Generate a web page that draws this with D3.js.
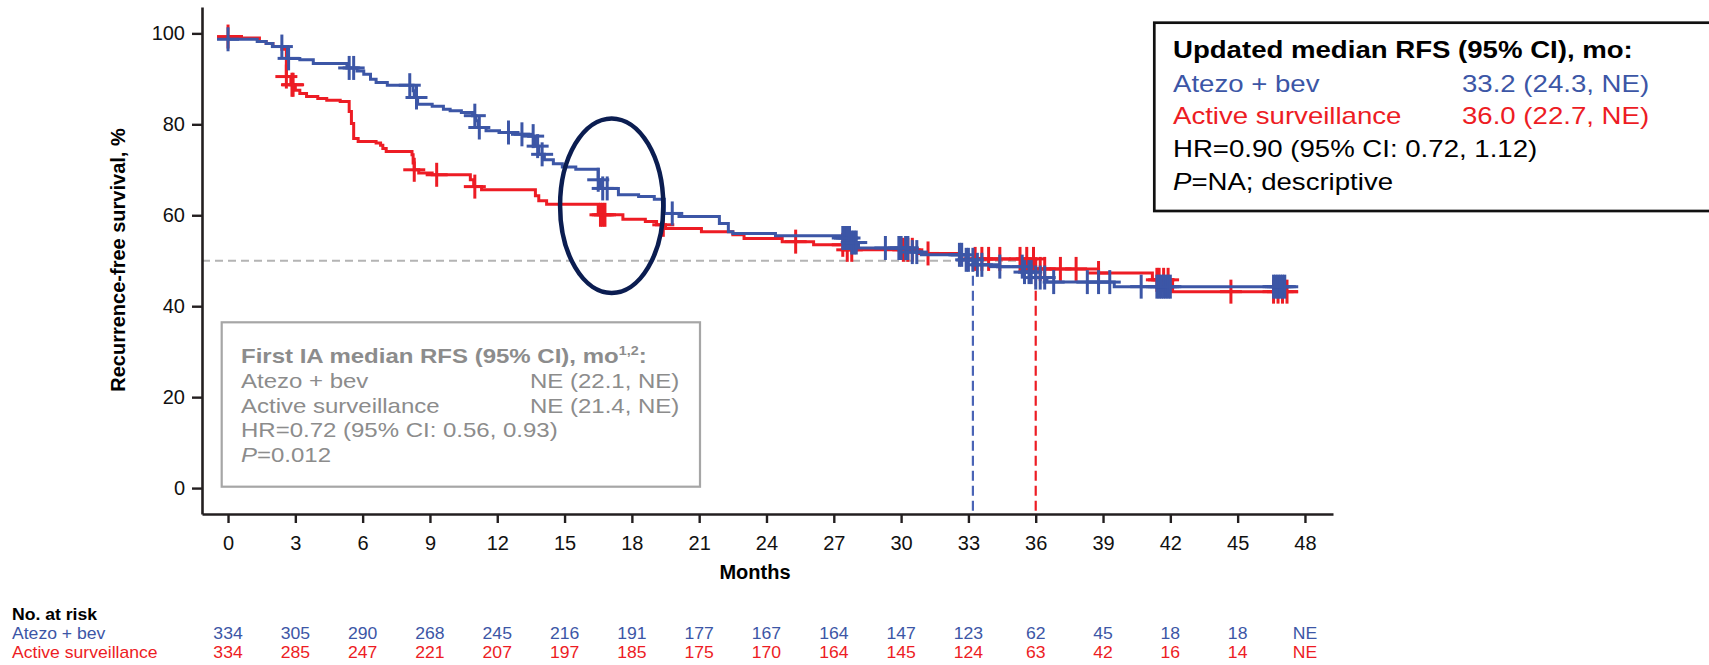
<!DOCTYPE html>
<meta charset="utf-8">
<script src="https://cdn.jsdelivr.net/npm/d3@7"></script>
<style>
body { margin: 0; background: #fff; }
text { font-family: Arial, "Liberation Sans", sans-serif; }
</style>
<body>
<script>

var width = 1709
var height = 665

var blue = "#3c56a6"
var red = "#ed1c24"

// Kaplan-Meier steps, [month, RFS %], last point = end of follow-up
var atezoSteps = [[0, 98.7], [1.3, 98.2], [1.7, 97.8], [2.0, 97.1], [2.65, 94.5], [3.2, 94.2], [3.8, 93.4],
  [5.3, 92.4], [5.75, 91.7], [6.05, 91.0], [6.35, 89.9], [6.6, 89.2], [7.1, 88.6], [8.25, 87.4], [8.3, 85.9],
  [8.45, 84.4], [9.1, 84.0], [9.6, 83.3], [9.9, 83.0], [10.4, 82.6], [10.9, 81.9], [11.05, 80.8], [11.15, 79.3],
  [11.5, 78.6], [12.1, 78.2], [12.8, 77.8], [13.4, 77.4], [13.7, 75.2], [13.85, 73.4], [14.1, 72.2], [14.5, 71.3],
  [14.9, 70.6], [15.5, 70.1], [16.5, 67.8], [16.6, 65.9], [17.4, 64.5], [18.3, 64.1], [19.0, 63.5], [19.45, 60.4],
  [20.1, 59.7], [21.9, 58.2], [22.3, 56.4], [22.5, 56.0], [24.4, 55.5], [27.4, 55.0], [27.8, 54.0], [28.1, 52.8],
  [30.5, 51.9], [30.9, 51.3], [32.9, 50.2], [33.3, 49.1], [34.3, 48.7], [35.5, 47.5], [36.0, 46.3], [36.5, 45.3],
  [39.5, 44.3], [47.7, 44.3]]

var activeSteps = [[0, 99.3], [0.6, 99.0], [1.4, 98.2], [1.7, 97.8], [2.0, 97.1], [2.4, 96.5], [2.6, 90.5],
  [2.8, 88.7], [3.0, 87.5], [3.2, 86.8], [3.5, 86.1], [4.0, 85.7], [4.4, 85.3], [5.0, 85.0], [5.4, 82.8],
  [5.5, 80.2], [5.6, 76.9], [5.8, 76.2], [6.6, 75.9], [6.8, 75.4], [6.9, 74.7], [7.05, 74.0], [8.2, 73.3],
  [8.25, 71.5], [8.3, 70.0], [8.5, 69.3], [9.1, 68.9], [10.8, 67.8], [10.95, 66.3], [11.3, 65.6], [13.7, 64.3],
  [13.85, 63.2], [14.2, 62.4], [16.5, 60.1], [17.6, 59.1], [18.6, 58.6], [19.1, 57.9], [19.5, 57.1], [21.1, 56.4],
  [22.5, 55.7], [23.0, 54.9], [24.7, 54.2], [26.1, 53.5], [27.5, 52.4], [30.8, 51.6], [32.6, 50.4], [36.0, 48.2],
  [38.8, 47.3], [41.2, 45.8], [42.1, 43.2], [47.7, 43.2]]

// censoring times (months)
var atezoCensor = [0, 2.4, 2.7, 5.4, 5.6, 8.1, 8.4, 11.0, 11.2, 12.5, 13.1, 13.6, 13.8, 14.0, 16.5, 16.7, 16.9,
  19.8, 27.4, 27.5, 27.6, 27.7, 27.8, 27.9, 28.0, 29.3, 29.9, 30.0, 30.2, 30.3, 30.5, 30.7, 32.6, 32.7, 32.9,
  33.0, 33.2, 33.4, 33.6, 34.4, 35.4, 35.5, 35.7, 35.8, 36.0, 36.2, 36.4, 36.8, 38.3, 38.8, 39.3, 40.7, 41.4,
  41.5, 41.6, 41.7, 41.8, 41.9, 42.0, 46.6, 46.7, 46.8, 46.9, 47.0, 47.1]
var activeCensor = [0, 2.6, 2.85, 2.9, 8.3, 9.3, 11.0, 16.6, 16.7, 16.8, 19.4, 25.3, 27.4, 27.6, 27.8, 30.1,
  30.3, 30.5, 31.2, 33.3, 33.6, 33.9, 34.4, 35.3, 35.6, 35.9, 36.2, 36.4, 37.1, 37.8, 38.8, 41.4, 41.5, 41.7,
  41.9, 44.7, 46.6, 46.8, 47.0, 47.2]

var medians = [33.2, 36.0]
var xTicks = d3.range(0, 49, 3)
var yTicks = [0, 20, 40, 60, 80, 100]
var atezoRisk = [334, 305, 290, 268, 245, 216, 191, 177, 167, 164, 147, 123, 62, 45, 18, 18, "NE"]
var activeRisk = [334, 285, 247, 221, 207, 197, 185, 175, 170, 164, 145, 124, 63, 42, 16, 14, "NE"]

var x = d3.scaleLinear().domain([-1.16, 49.25]).range([202, 1333])
var y = d3.scaleLinear().domain([-5.7, 105.8]).range([514, 7])

var svg = d3.select("body").append("svg")
            .attr("width", width)
            .attr("height", height)

function stepAt(steps, t) {
  var v = steps[0][1]
  steps.forEach(function(d) { if (d[0] <= t) v = d[1] })
  return v
}

// reference lines
svg.append("line")
   .attr("x1", x(-1.16)).attr("x2", x(36)).attr("y1", y(50)).attr("y2", y(50))
   .style("stroke", "#b4b4b4").style("stroke-width", 2).style("stroke-dasharray", "8,5")

svg.append("line")
   .attr("x1", x(medians[0])).attr("x2", x(medians[0])).attr("y1", y(50)).attr("y2", y(-5.7))
   .style("stroke", "#4a64b6").style("stroke-width", 2.2).style("stroke-dasharray", "10,5")
svg.append("line")
   .attr("x1", x(medians[1])).attr("x2", x(medians[1])).attr("y1", y(50)).attr("y2", y(-5.7))
   .style("stroke", red).style("stroke-width", 2.2).style("stroke-dasharray", "10,5")

// axes
var xAxis = svg.append("g")
    .attr("transform", "translate(0," + y(-5.7) + ")")
    .call(d3.axisBottom(x).tickValues(xTicks).tickSize(9).tickSizeOuter(0).tickPadding(13))
var yAxis = svg.append("g")
    .attr("transform", "translate(" + x(-1.16) + ",0)")
    .call(d3.axisLeft(y).tickValues(yTicks).tickSize(10).tickSizeOuter(0).tickPadding(7))

;[xAxis, yAxis].forEach(function(a) {
  a.select(".domain").style("stroke", "#231f20").style("stroke-width", 2.6)
  a.selectAll(".tick line").style("stroke", "#231f20").style("stroke-width", 2.4)
  a.selectAll(".tick text").style("font-size", "20px").style("fill", "#111")
    .style("font-family", "Arial, 'Liberation Sans', sans-serif")
})

svg.append("text")
   .attr("x", 755).attr("y", 579)
   .style("text-anchor", "middle").style("font-size", "20px").style("font-weight", "bold")
   .text("Months")

svg.append("text")
   .attr("transform", "translate(125,260) rotate(-90)")
   .style("text-anchor", "middle").style("font-size", "20px").style("font-weight", "bold")
   .text("Recurrence-free survival, %")

// curves
var km = d3.line().x(function(d) { return x(d[0]) }).y(function(d) { return y(d[1]) }).curve(d3.curveStepAfter)

function drawArm(steps, censor, color) {
  svg.append("path").attr("d", km(steps))
     .attr("fill", "none").attr("stroke", color).attr("stroke-width", 3)
  var g = svg.append("g").attr("stroke", color).attr("stroke-width", 3)
  censor.forEach(function(t) {
    var cx = x(t), cy = y(stepAt(steps, t))
    g.append("line").attr("x1", cx - 11).attr("x2", cx + 11).attr("y1", cy).attr("y2", cy)
    g.append("line").attr("x1", cx).attr("x2", cx).attr("y1", cy - 12).attr("y2", cy + 12)
  })
}
drawArm(activeSteps, activeCensor, red)
drawArm(atezoSteps, atezoCensor, blue)

// highlight ellipse
svg.append("ellipse")
   .attr("cx", x(17.1)).attr("cy", y(62.1))
   .attr("rx", x(19.4) - x(17.1)).attr("ry", y(62.1) - y(81.3))
   .attr("fill", "none").attr("stroke", "#0b1d51").attr("stroke-width", 4.5)

// text helper with horizontal stretch
function txt(g, x0, y0, size, sx) {
  return g.append("text")
          .attr("transform", "translate(" + x0 + "," + y0 + ") scale(" + sx + ",1)")
          .style("font-size", size + "px")
}

// updated median box
var upd = svg.append("g")
upd.append("rect").attr("x", 1154.3).attr("y", 22.7).attr("width", 600).attr("height", 188.3)
   .attr("fill", "#fff").attr("stroke", "#111").attr("stroke-width", 2.7)
txt(upd, 1173, 58.3, 23, 1.2).style("font-weight", "bold").text("Updated median RFS (95% CI), mo:")
txt(upd, 1173, 91.7, 23, 1.2).style("fill", blue).text("Atezo + bev")
txt(upd, 1462, 91.7, 23, 1.2).style("fill", blue).text("33.2 (24.3, NE)")
txt(upd, 1173, 124.3, 23, 1.2).style("fill", red).text("Active surveillance")
txt(upd, 1462, 124.3, 23, 1.2).style("fill", red).text("36.0 (22.7, NE)")
txt(upd, 1173, 157, 23, 1.2).text("HR=0.90 (95% CI: 0.72, 1.12)")
var pl = txt(upd, 1173, 189.6, 23, 1.2)
pl.append("tspan").style("font-style", "italic").text("P")
pl.append("tspan").text("=NA; descriptive")

// first IA box
var grey = "#8c8c8c"
var ia = svg.append("g")
ia.append("rect").attr("x", 221.7).attr("y", 322.3).attr("width", 478.3).attr("height", 164.4)
  .attr("fill", "#fff").attr("stroke", "#a6a6a6").attr("stroke-width", 2.2)
var t1 = txt(ia, 241, 363.3, 20, 1.2).style("font-weight", "bold").style("fill", grey)
t1.append("tspan").text("First IA median RFS (95% CI), mo")
t1.append("tspan").attr("dy", -8).style("font-size", "12px").text("1,2")
t1.append("tspan").attr("dy", 8).text(":")
txt(ia, 241, 388.3, 20, 1.2).style("fill", grey).text("Atezo + bev")
txt(ia, 530, 388.3, 20, 1.2).style("fill", grey).text("NE (22.1, NE)")
txt(ia, 241, 412.5, 20, 1.2).style("fill", grey).text("Active surveillance")
txt(ia, 530, 412.5, 20, 1.2).style("fill", grey).text("NE (21.4, NE)")
txt(ia, 241, 436.8, 20, 1.2).style("fill", grey).text("HR=0.72 (95% CI: 0.56, 0.93)")
var t5 = txt(ia, 241, 461.5, 20, 1.2).style("fill", grey)
t5.append("tspan").style("font-style", "italic").text("P")
t5.append("tspan").text("=0.012")

// number at risk
var risk = svg.append("g")
txt(risk, 12, 620, 16, 1.1).style("font-weight", "bold").text("No. at risk")
txt(risk, 12, 639.3, 16, 1.1).style("fill", blue).text("Atezo + bev")
txt(risk, 12, 658.3, 16, 1.1).style("fill", red).text("Active surveillance")
xTicks.forEach(function(t, i) {
  txt(risk, x(t), 639.3, 16, 1.1).style("fill", blue).style("text-anchor", "middle").text(atezoRisk[i])
  txt(risk, x(t), 658.3, 16, 1.1).style("fill", red).style("text-anchor", "middle").text(activeRisk[i])
})

</script>
</body>
